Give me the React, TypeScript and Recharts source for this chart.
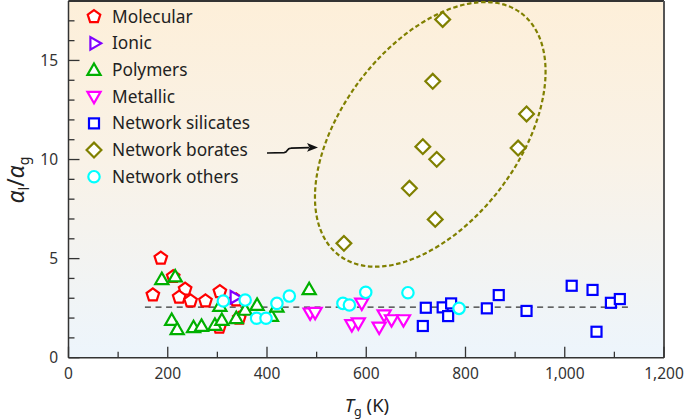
import React from 'react';
import {
  ScatterChart, Scatter, XAxis, YAxis, CartesianGrid, ReferenceLine, ReferenceDot, Legend,
} from 'recharts';

// ---- data (Tg in K, ratio alpha_l / alpha_g) ----
const molecularTg = [186, 170, 211, 235, 223, 246, 276, 305, 338, 304, 344];
const molecularRatio = [5.02, 3.16, 4.09, 3.45, 3.05, 2.86, 2.86, 3.33, 2.91, 1.53, 1.99];

const ionicTg = [334];
const ionicRatio = [3.05];

const polymersTg = [188, 215, 208, 219, 252, 268, 295, 305, 309, 338, 356, 380, 409, 420, 485];
const polymersRatio = [3.96, 4.09, 1.9, 1.43, 1.53, 1.6, 1.65, 2.61, 1.9, 1.99, 2.41, 2.66, 2.1, 2.57, 3.45];

const metallicTg = [487, 497, 591, 571, 584, 626, 636, 651, 675];
const metallicRatio = [2.24, 2.27, 2.74, 1.65, 1.74, 1.53, 2.15, 1.9, 1.9];

const silicatesTg = [720, 714, 754, 771, 765, 843, 867, 923, 1014, 1056, 1093, 1111, 1064];
const silicatesRatio = [2.52, 1.6, 2.54, 2.74, 2.1, 2.49, 3.16, 2.36, 3.63, 3.42, 2.77, 2.96, 1.31];

const boratesTg = [754, 734, 923, 714, 906, 742, 687, 739, 555];
const boratesRatio = [17.07, 13.95, 12.3, 10.65, 10.58, 10.01, 8.55, 6.98, 5.77];

const othersTg = [312, 356, 379, 398, 420, 445, 553, 566, 599, 684, 787];
const othersRatio = [2.86, 2.91, 1.99, 1.99, 2.74, 3.11, 2.74, 2.66, 3.3, 3.28, 2.49];

const seriesNames = ['Molecular', 'Ionic', 'Polymers', 'Metallic', 'Network silicates', 'Network borates', 'Network others'];
const seriesColors = ['#ff0000', '#8000ff', '#00b000', '#ff00ff', '#0000ff', '#808000', '#00ffff'];
const seriesKinds = ['pentagon', 'right', 'up', 'down', 'square', 'diamond', 'circle'];

const xTicks = [0, 100, 200, 300, 400, 500, 600, 700, 800, 900, 1000, 1100, 1200];
const yTicks = [0, 1, 2, 3, 4, 5, 6, 7, 8, 9, 10, 11, 12, 13, 14, 15, 16, 17, 18];
const xMajorEvery = 200;
const yMajorEvery = 5;

const guideRatio = 2.55;
const guideStart = 154;
const guideEnd = 1135;

const ellipseCenterTg = 729;
const ellipseCenterRatio = 11.27;
const arrowStartTg = 400;
const arrowStartRatio = 10.33;

const zip = (t: number[], r: number[]) => t.map((v, i) => ({ t: v, r: r[i] }));
const seriesData = [
  zip(molecularTg, molecularRatio),
  zip(ionicTg, ionicRatio),
  zip(polymersTg, polymersRatio),
  zip(metallicTg, metallicRatio),
  zip(silicatesTg, silicatesRatio),
  zip(boratesTg, boratesRatio),
  zip(othersTg, othersRatio),
];

const FONT = '"Noto Sans", "DejaVu Sans", sans-serif';
const SW = 2.2;

const poly = (cx: number, cy: number, r: number, angles: number[]) =>
  angles.map((a) => {
    const rad = (a * Math.PI) / 180;
    return `${cx + r * Math.cos(rad)},${cy + r * Math.sin(rad)}`;
  }).join(' ');

function Marker({ kind, cx, cy, color }: { kind: string; cx: number; cy: number; color: string }) {
  const common = { fill: '#ffffff', stroke: color, strokeWidth: SW, strokeLinejoin: 'miter' as const };
  switch (kind) {
    case 'pentagon':
      return <polygon points={poly(cx, cy, 6.6, [-90, -18, 54, 126, 198])} {...common} />;
    case 'right':
      return <polygon points={poly(cx, cy, 7.2, [0, 120, 240])} {...common} />;
    case 'up':
      return <polygon points={poly(cx, cy + 1, 7.6, [-90, 30, 150])} {...common} />;
    case 'down':
      return <polygon points={poly(cx, cy - 1, 7.6, [90, 210, 330])} {...common} />;
    case 'square':
      return <rect x={cx - 5} y={cy - 5} width={10} height={10} {...common} />;
    case 'diamond':
      return <polygon points={poly(cx, cy, 7.4, [-90, 0, 90, 180])} {...common} />;
    default:
      return <circle cx={cx} cy={cy} r={5.7} {...common} />;
  }
}

const fmtThousands = (v: number) => v.toLocaleString('en-US');

const XTick = (props: any) => {
  const { x, y, payload } = props;
  const major = payload.value % xMajorEvery === 0;
  return (
    <g>
      <line x1={x} x2={x} y1={y} y2={y - (major ? 11 : 6)} stroke="#333" strokeWidth={1.3} />
      {major && (
        <text x={x} y={y + 21.5} textAnchor="middle" fontSize={15.5} fontFamily={FONT} fill="#333">
          {fmtThousands(payload.value)}
        </text>
      )}
    </g>
  );
};

const YTick = (props: any) => {
  const { x, y, payload } = props;
  const major = payload.value % yMajorEvery === 0;
  return (
    <g>
      <line x1={x} x2={x + (major ? 11 : 6)} y1={y} y2={y} stroke="#333" strokeWidth={1.3} />
      {major && (
        <text x={x - 10.5} y={y + 5.5} textAnchor="end" fontSize={15.5} fontFamily={FONT} fill="#333">
          {payload.value}
        </text>
      )}
    </g>
  );
};

const YLabel = () => (
  <text
    x={24}
    y={180}
    transform="rotate(-90 24 180)"
    textAnchor="middle"
    fontSize={23}
    fontFamily={FONT}
    fill="#222"
  >
    <tspan fontStyle="italic">α</tspan>
    <tspan dy={4.5} fontSize={14}>l</tspan>
    <tspan dy={-4.5}>/</tspan>
    <tspan fontStyle="italic">α</tspan>
    <tspan dy={4.5} fontSize={14}>g</tspan>
  </text>
);

const XLabel = () => (
  <text x={367} y={411.5} textAnchor="middle" fontSize={18.5} fontFamily={FONT} fill="#222">
    <tspan fontStyle="italic">T</tspan>
    <tspan dy={4} fontSize={12.5}>g</tspan>
    <tspan dy={-4}> (K)</tspan>
  </text>
);

const LegendContent = () => (
  <svg width={250} height={192} style={{ display: 'block' }}>
    {seriesNames.map((name, i) => {
      const cy = 12.7 + i * 26.67;
      return (
        <g key={name}>
          <Marker kind={seriesKinds[i]} cx={14} cy={cy} color={seriesColors[i]} />
          <text x={32} y={cy + 6} fontSize={17.3} fontFamily={FONT} fill="#222">{name}</text>
        </g>
      );
    })}
  </svg>
);

const EllipseShape = (props: any) => {
  const { cx, cy } = props;
  return (
    <ellipse
      cx={cx}
      cy={cy}
      rx={151.5}
      ry={88.6}
      transform={`rotate(-53.1 ${cx} ${cy})`}
      fill="none"
      stroke="#808000"
      strokeWidth={2.2}
      strokeDasharray="4.5 2.6"
    />
  );
};

const ArrowShape = (props: any) => {
  const { cx, cy } = props;
  return (
    <g transform={`translate(${cx} ${cy})`}>
      <path d="M0,0 L17,-0.3 C21.5,-0.5 19,-4.8 24,-4.8 L42,-5.4" fill="none" stroke="#111" strokeWidth={1.7} />
      <polygon points="51,-5.6 40,-10 42.5,-5.4 40,-1.2" fill="#111" />
    </g>
  );
};

export default function App() {
  return (
    <div style={{ position: 'absolute', left: 0, top: 0 }}>
      <ScatterChart width={685} height={419} margin={{ top: 1, right: 21, bottom: 0, left: 0 }}>
        <defs>
          <linearGradient id="bgGrad" x1="0" y1="0" x2="0" y2="1">
            <stop offset="0%" stopColor="#fdefd9" />
            <stop offset="45%" stopColor="#f9f2e7" />
            <stop offset="100%" stopColor="#edf5fc" />
          </linearGradient>
        </defs>
        <CartesianGrid horizontal={false} vertical={false} fill="url(#bgGrad)" fillOpacity={1} />
        <XAxis
          type="number"
          dataKey="t"
          domain={[0, 1200]}
          ticks={xTicks}
          interval={0}
          height={61.3}
          tickLine={false}
          tickSize={0}
          tickMargin={0}
          tick={<XTick />}
          axisLine={{ stroke: '#333', strokeWidth: 1.5 }}
          label={{ content: () => <XLabel /> }}
        />
        <YAxis
          type="number"
          dataKey="r"
          domain={[0, 18]}
          ticks={yTicks}
          interval={0}
          width={68.5}
          tickLine={false}
          tickSize={0}
          tickMargin={0}
          tick={<YTick />}
          axisLine={{ stroke: '#333', strokeWidth: 1.5 }}
          label={{ content: () => <YLabel /> }}
        />
        <ReferenceLine y={18} stroke="#333" strokeWidth={2} />
        <ReferenceLine x={1200} stroke="#555" strokeWidth={2} />
        <ReferenceLine
          segment={[{ x: guideStart, y: guideRatio }, { x: guideEnd, y: guideRatio }]}
          stroke="#333"
          strokeWidth={1.3}
          strokeDasharray="6 4.6"
        />
        <ReferenceDot x={ellipseCenterTg} y={ellipseCenterRatio} shape={<EllipseShape />} />
        <ReferenceDot x={arrowStartTg} y={arrowStartRatio} shape={<ArrowShape />} />
        {seriesData.map((d, i) => (
          <Scatter
            key={seriesNames[i]}
            name={seriesNames[i]}
            data={d}
            isAnimationActive={false}
            shape={(p: any) => <Marker kind={seriesKinds[i]} cx={p.cx} cy={p.cy} color={seriesColors[i]} />}
          />
        ))}
        <Legend
          layout="vertical"
          align="center"
          verticalAlign="middle"
          wrapperStyle={{ left: 80, top: 4, width: 250, height: 192 }}
          content={() => <LegendContent />}
        />
      </ScatterChart>
    </div>
  );
}
